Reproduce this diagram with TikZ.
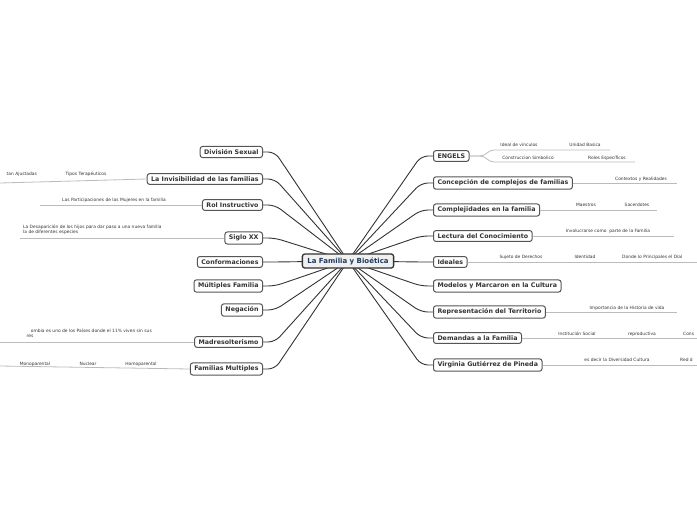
\documentclass[tikz,border=0pt]{standalone}
\usepackage{fontspec}
\setmainfont{DejaVu Sans}
\usetikzlibrary{backgrounds,calc}
\definecolor{ink}{HTML}{333333}
\definecolor{edge}{HTML}{555555}
\definecolor{leafline}{HTML}{BBBBBB}
\definecolor{ctext}{HTML}{1F3A5F}
\tikzset{
 topic/.style={draw=edge,line width=1pt,rounded corners=2.5pt,fill=white,text=ink,font=\bfseries\fontsize{6.3}{7}\selectfont,inner xsep=4pt,inner ysep=3pt},
 central/.style={draw=ink,line width=1.3pt,rounded corners=2.5pt,fill=gray!12,text=ctext,font=\bfseries\fontsize{7}{8}\selectfont,inner xsep=5pt,inner ysep=3.5pt},
 conn/.style={draw=ink,line width=0.9pt,rounded corners=7pt},
 leafl/.style={draw=leafline,line width=0.8pt},
 leaf/.style={text=ink,font=\fontsize{4.4}{5.2}\selectfont,inner sep=0pt}
}
\begin{document}
\begin{tikzpicture}[x=1pt,y=-1pt]
\useasboundingbox (0,0) rectangle (697,520);
\clip (0,0) rectangle (697,520);
\node[central] (C) at (348,261) {La Familia y Bioética};
% left
\node[topic,anchor=east] (L1) at (263,152) {División Sexual};
\node[topic,anchor=east] (L2) at (263,179) {La Invisibilidad de las familias};
\node[topic,anchor=east] (L3) at (263,205) {Rol Instructivo};
\node[topic,anchor=east] (L4) at (263,238) {Siglo XX};
\node[topic,anchor=east] (L5) at (263,262) {Conformaciones};
\node[topic,anchor=east] (L6) at (263,286) {Múltiples Familia};
\node[topic,anchor=east] (L7) at (263,310) {Negación};
\node[topic,anchor=east] (L8) at (263,342) {Madresolterismo};
\node[topic,anchor=east] (L9) at (263,369) {Familias Multiples};
% right
\node[topic,anchor=west] (R1) at (433,156) {ENGELS};
\node[topic,anchor=west] (R2) at (433,183) {Concepción de complejos de familias};
\node[topic,anchor=west] (R3) at (433,210) {Complejidades en la familia};
\node[topic,anchor=west] (R4) at (433,236) {Lectura del Conocimiento};
\node[topic,anchor=west] (R5) at (433,262) {Ideales};
\node[topic,anchor=west] (R6) at (433,286) {Modelos y Marcaron en la Cultura};
\node[topic,anchor=west] (R7) at (433,312) {Representación del Territorio};
\node[topic,anchor=west] (R8) at (433,338) {Demandas a la Familia};
\node[topic,anchor=west] (R9) at (433,365) {Virginia Gutiérrez de Pineda};
\begin{scope}[on background layer]
\foreach \n in {L1,L2,L3,L4,L5,L6,L7,L8,L9}
  \draw[conn] (C.center) -- ($(\n.east)+(12,0)$) -- (\n.east);
\foreach \n in {R1,R2,R3,R4,R5,R6,R7,R8,R9}
  \draw[conn] (C.center) -- ($(\n.west)+(-12,0)$) -- (\n.west);
\end{scope}
% left leaves
\coordinate (a2) at (0,183);
\draw[leafl] (L2.west) -- (a2);
\node[leaf,anchor=east] (t2a) at (37,174) {tan Ajustadas};
\node[leaf] (t2b) at (86,174) {Tipos Terapéuticos};
\coordinate (a3) at (40,205);
\draw[leafl] (L3.west) -- (a3);
\node[leaf] (t3) at (114,200) {Las Participaciones de las Mujeres en la familia};
\coordinate (a4) at (20,238);
\draw[leafl] (L4.west) -- (a4);
\node[leaf,anchor=west,align=left] (t4) at (23,229.5) {La Desaparición de los hijos para dar paso a una nueva familia\\la de diferentes especies};
\coordinate (a8) at (0,342);
\draw[leafl] (L8.west) -- (a8);
\node[leaf,anchor=east,align=right] (t8) at (152,333.5) {ombia es uno de los Países donde el 11\% viven sin sus\\res\hphantom{ombia es uno de los Países donde el 11\% viven sin su}};
\coordinate (a9) at (0,366);
\draw[leafl] (L9.west) -- (a9);
\node[leaf] (t9a) at (35,364) {Monoparental};
\node[leaf] (t9b) at (88,364) {Nuclear};
\node[leaf] (t9c) at (141,364) {Homoparental};
% right leaves
\coordinate (e1a) at (610,150);
\coordinate (e1b) at (635,162);
\draw[leafl,rounded corners=4pt] (R1.east) -- (484,156) -- (490,150) -- (e1a);
\draw[leafl,rounded corners=4pt] (R1.east) -- (484,156) -- (490,162) -- (e1b);
\node[leaf] (e1t1) at (519,145) {Ideal de vínculos};
\node[leaf] (e1t2) at (585,145) {Unidad Basica};
\node[leaf] (e1t3) at (528,158) {Construccion Simbolico};
\node[leaf] (e1t4) at (607,158) {Roles Específicos};
\coordinate (e2) at (677,183);
\draw[leafl] (R2.east) -- (e2);
\node[leaf] (e2t) at (641,179) {Contextos y Realidades};
\coordinate (e3) at (657,210);
\draw[leafl] (R3.east) -- (e3);
\node[leaf] (e3a) at (586,205) {Maestros};
\node[leaf] (e3b) at (637,205) {Sacerdotes};
\coordinate (e4) at (674,236);
\draw[leafl] (R4.east) -- (e4);
\node[leaf] (e4t) at (608,231) {Involucrarse como\ \ parte de la Familia};
\coordinate (e5) at (697,262);
\draw[leafl] (R5.east) -- (e5);
\node[leaf] (e5a) at (521,257) {Sujeto de Derechos};
\node[leaf] (e5b) at (585,257) {Identidad};
\node[leaf,anchor=west] (e5c) at (622,257) {Donde lo Principales el Dial};
\coordinate (e7) at (677,312);
\draw[leafl] (R7.east) -- (e7);
\node[leaf] (e7t) at (627,308) {Importancia de la Historia de vida};
\coordinate (e8) at (697,338);
\draw[leafl] (R8.east) -- (e8);
\node[leaf] (e8a) at (577,334) {Institución Social};
\node[leaf] (e8b) at (642,334) {reproductiva};
\node[leaf,anchor=west] (e8c) at (683,334) {Cons};
\coordinate (e9) at (697,365);
\draw[leafl] (R9.east) -- (e9);
\node[leaf] (e9a) at (617,360) {es decir la Diversidad Cultura};
\node[leaf,anchor=west] (e9b) at (680,360) {Red d};
\end{tikzpicture}
\end{document}
